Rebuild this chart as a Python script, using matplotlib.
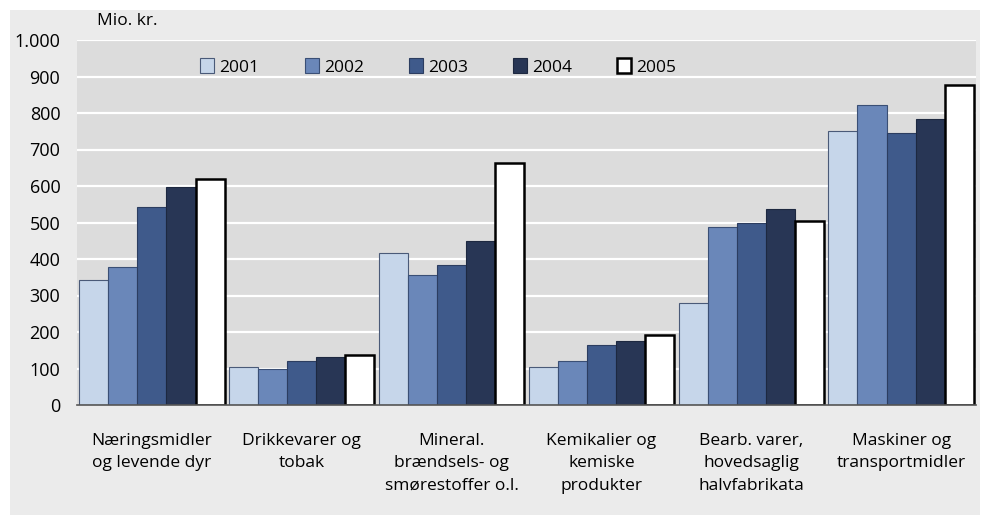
import numpy as np
import matplotlib.pyplot as plt
from matplotlib.patches import Rectangle

categories = ['Næringsmidler\nog levende dyr', 'Drikkevarer og\ntobak',
              'Mineral.\nbrændsels- og\nsmørestoffer o.l.', 'Kemikalier og\nkemiske\nprodukter',
              'Bearb. varer,\nhovedsaglig\nhalvfabrikata', 'Maskiner og\ntransportmidler']
years = ['2001', '2002', '2003', '2004', '2005']
v2001 = [342, 104, 416, 104, 279, 751]
v2002 = [378, 99, 356, 120, 488, 822]
v2003 = [542, 120, 384, 164, 499, 745]
v2004 = [597, 131, 449, 175, 537, 784]
v2005 = [619, 137, 663, 192, 504, 877]
yticks = [0, 100, 200, 300, 400, 500, 600, 700, 800, 900, 1000]
ytick_labels = ['0', '100', '200', '300', '400', '500', '600', '700', '800', '900', '1.000']

colors = ['#c6d6ea', '#6a87b9', '#3f5a8b', '#283655', '#ffffff']
edges = ['#4a5a78', '#3a4f75', '#2c3d60', '#1d2840', '#000000']
lws = [0.8, 0.8, 0.8, 0.8, 1.8]

plt.rcParams['font.family'] = ['Open Sans', 'DejaVu Sans']

fig = plt.figure(figsize=(9.81, 5.19), dpi=100)
fig.patches.append(Rectangle((10/981, 4/519), 970/981, 505/519, transform=fig.transFigure,
                             facecolor='#ebebeb', edgecolor='none', zorder=-10))
ax = fig.add_axes([77/981, 1-405/519, 899/981, 365/519])
ax.set_facecolor('#dcdcdc')

x = np.arange(len(categories))
w = 0.194
series = [v2001, v2002, v2003, v2004, v2005]
for i, vals in enumerate(series):
    ax.bar(x + (i - 2) * w, vals, w, color=colors[i], edgecolor=edges[i],
           linewidth=lws[i], label=years[i], zorder=3)

ax.set_xlim(-0.5, len(categories) - 0.5)
ax.set_ylim(0, 1000)
ax.set_yticks(yticks)
ax.set_yticklabels(ytick_labels, fontsize=13)
ax.yaxis.grid(True, color='white', linewidth=1.6, zorder=0)
ax.set_xticks(x)
ax.set_xticklabels(categories, fontsize=12.5, linespacing=1.55, va='top')
ax.tick_params(axis='both', length=0)
ax.tick_params(axis='x', pad=20)
ax.tick_params(axis='y', pad=12)
for s in ['top', 'right', 'left']:
    ax.spines[s].set_visible(False)
ax.spines['bottom'].set_color('#555555')
ax.spines['bottom'].set_linewidth(1.2)
ax.spines['bottom'].set_zorder(4)

ax.text(20/899, 1.03, 'Mio. kr.', transform=ax.transAxes, fontsize=12.5, va='bottom', ha='left')

# legend background box hides part of the 900 gridline
ax.add_patch(Rectangle((0.1034, 0.84), 0.7286, 0.13, transform=ax.transAxes,
                       facecolor='#dcdcdc', edgecolor='none', zorder=1))
leg = ax.legend(loc='center', bbox_to_anchor=(0.402, 0.926), ncol=5, frameon=False,
                fontsize=12.5, columnspacing=2.6, handlelength=0.8, handleheight=0.9,
                handletextpad=0.3)

fig.savefig('out.png', dpi=100)
